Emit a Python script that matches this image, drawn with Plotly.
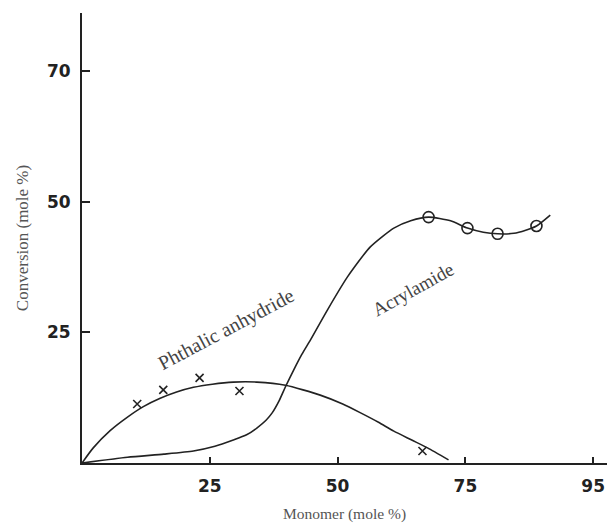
import plotly.graph_objects as go

# Tick labels (as printed on the chart)
x_tick_pos = [25, 50, 75, 100]
x_tick_text = ["25", "50", "75", "95"]
y_tick_pos = [25, 50, 75]
y_tick_text = ["25", "50", "70"]

# Phthalic anhydride: measured points (crosses) and drawn curve
pa_pts_x = [10.8, 15.9, 23.0, 30.8, 66.6]
pa_pts_y = [11.3, 14.0, 16.3, 13.8, 2.3]
pa_curve_x = [0, 2.2, 5.5, 8.9, 12.0, 15.3, 18.5, 21.8, 25.5, 29.6, 34.2, 39.8, 46.6,
              51.0, 54.5, 58.0, 61.0, 64.5, 67.6, 71.7]
pa_curve_y = [0, 2.9, 6.2, 8.8, 10.8, 12.4, 13.6, 14.5, 15.1, 15.5, 15.5, 14.9, 13.0,
              11.3, 9.6, 7.8, 6.1, 4.4, 2.9, 0.6]

# Acrylamide: measured points (circles) and drawn curve
ac_pts_x = [67.8, 75.4, 81.3, 88.9]
ac_pts_y = [47.1, 45.0, 43.9, 45.4]
ac_curve_x = [0, 8.9, 16.0, 21.8, 26.0, 29.6, 32.2, 34.2, 36.0, 37.2, 38.6, 39.8, 41.4,
              43.0, 44.7, 48.0, 51.9, 56.4, 61.0, 64.3, 67.8, 72.1, 75.4, 78.5, 81.3,
              84.5, 86.8, 88.9, 91.6]
ac_curve_y = [0, 1.1, 1.7, 2.3, 3.2, 4.4, 5.4, 6.7, 8.2, 9.6, 12.0, 14.6, 17.8,
              20.8, 23.6, 29.3, 35.6, 41.4, 45.0, 46.4, 47.1, 46.4, 45.0, 44.2, 43.9,
              44.0, 44.6, 45.4, 47.5]

ink = "#222222"

fig = go.Figure()
fig.add_trace(go.Scatter(x=pa_curve_x, y=pa_curve_y, mode="lines",
                         line=dict(color=ink, width=1.6, shape="spline", smoothing=0.6),
                         hoverinfo="skip", showlegend=False))
fig.add_trace(go.Scatter(x=ac_curve_x, y=ac_curve_y, mode="lines",
                         line=dict(color=ink, width=1.6, shape="spline", smoothing=0.6),
                         hoverinfo="skip", showlegend=False))
fig.add_trace(go.Scatter(x=pa_pts_x, y=pa_pts_y, mode="markers",
                         marker=dict(symbol="x-thin", size=8, line=dict(color=ink, width=1.6)),
                         showlegend=False))
fig.add_trace(go.Scatter(x=ac_pts_x, y=ac_pts_y, mode="markers",
                         marker=dict(symbol="circle-open", size=11, color=ink,
                                     line=dict(color=ink, width=1.6)),
                         showlegend=False))

fig.add_annotation(x=28.2, y=25.5, text="Phthalic anhydride", showarrow=False,
                   textangle=-28, font=dict(family="Liberation Serif", size=20, color="#444444"))
fig.add_annotation(x=64.7, y=33.3, text="Acrylamide", showarrow=False,
                   textangle=-29, font=dict(family="Liberation Serif", size=19, color="#444444"))

tick_font = dict(family="DejaVu Sans", size=17, color=ink, weight="bold")

fig.update_layout(
    width=609, height=523,
    margin=dict(l=82, r=2, t=13, b=60),
    paper_bgcolor="white", plot_bgcolor="white",
    xaxis=dict(range=[0, 102.7], tickvals=x_tick_pos, ticktext=x_tick_text,
               automargin=False,
               showgrid=False, zeroline=False, showline=True, linecolor=ink, linewidth=2,
               ticks="inside", ticklen=6, tickwidth=1.5, tickcolor=ink,
               tickfont=tick_font, ticklabelstandoff=7,
               title=dict(text="Monomer (mole %)", standoff=13,
                          font=dict(family="Liberation Serif", size=15.5, color="#555555"))),
    yaxis=dict(range=[0, 86.2], tickvals=y_tick_pos, ticktext=y_tick_text,
               automargin=False,
               showgrid=False, zeroline=False, showline=True, linecolor=ink, linewidth=2,
               ticks="inside", ticklen=8, tickwidth=1.5, tickcolor=ink,
               tickfont=tick_font, ticklabelstandoff=6,
               title=dict(text="Conversion (mole %)", standoff=14,
                          font=dict(family="Liberation Serif", size=17, color="#555555"))),
)

# remove the page's default body margin so the figure fills the window exactly
fig.write_html("out.html",
               config={"displayModeBar": False},
               post_script="document.body.style.margin='0';document.body.style.overflow='hidden';")
